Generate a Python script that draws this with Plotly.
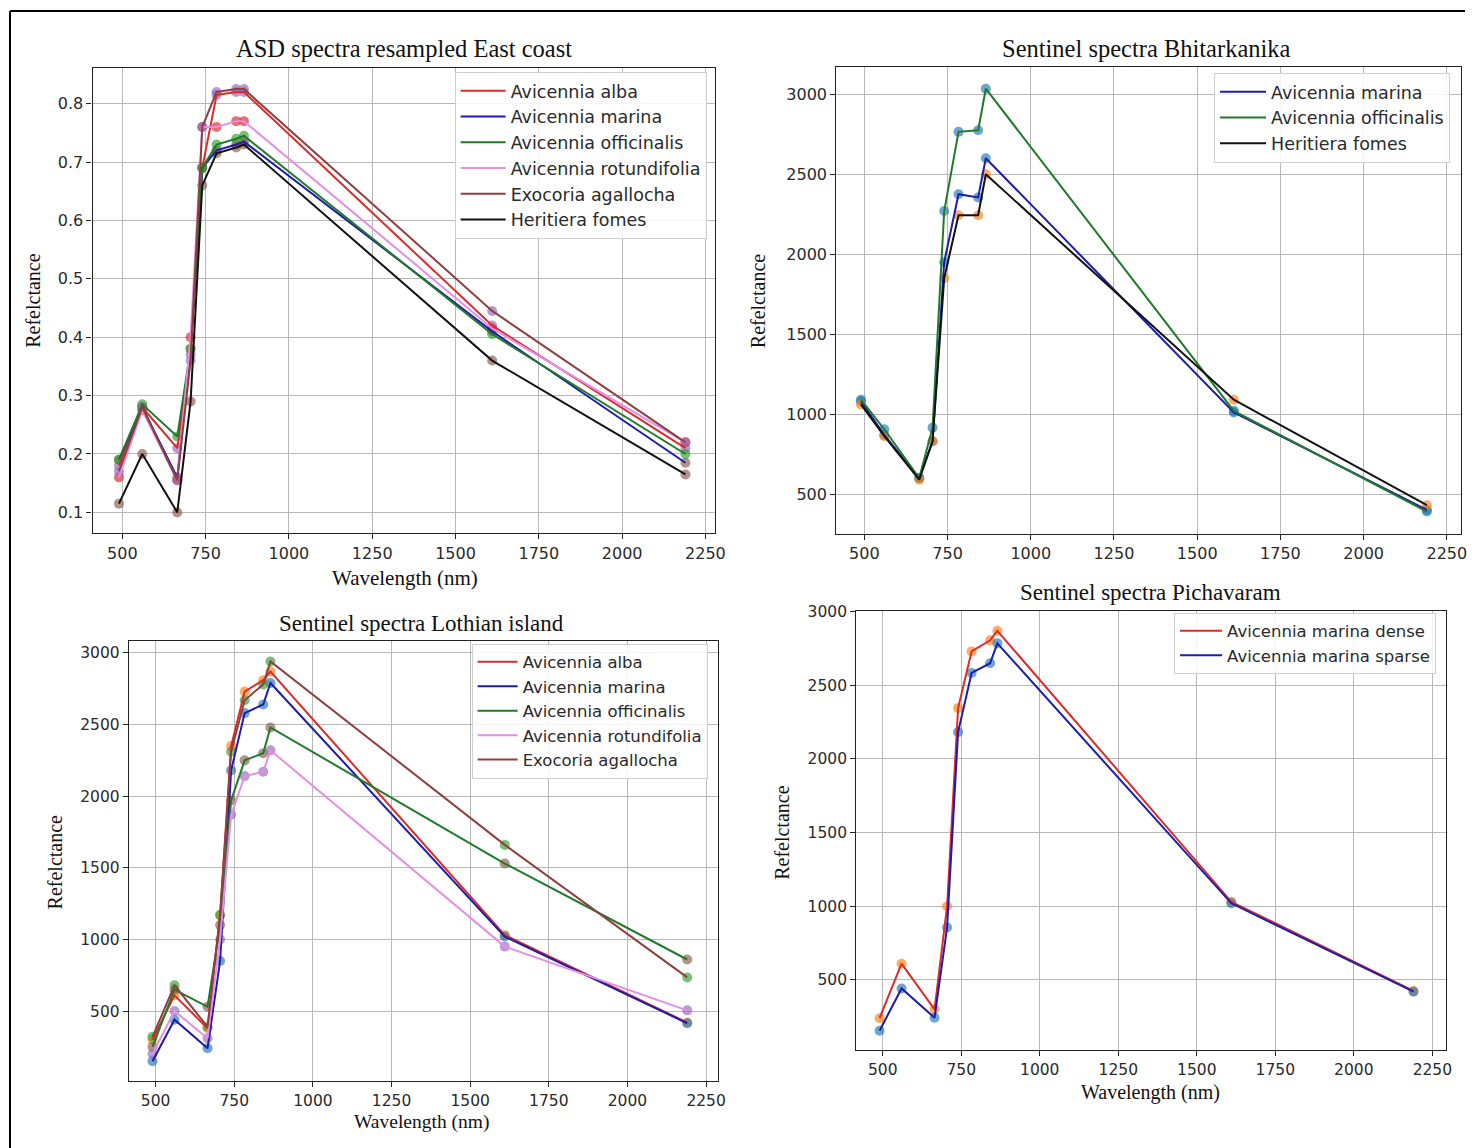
import plotly.graph_objects as go

W, H = 1475, 1148

# Sentinel-2 band centres (nm)
bands = [490, 560, 665, 705, 740, 783, 842, 865, 1610, 2190]
x_ticks = [500, 750, 1000, 1250, 1500, 1750, 2000, 2250]

# --- ASD spectra resampled, East coast (reflectance 0-1)
east_alba = [0.18, 0.28, 0.21, 0.37, 0.69, 0.815, 0.82, 0.82, 0.42, 0.21]
east_marina = [0.19, 0.28, 0.16, 0.38, 0.69, 0.72, 0.73, 0.735, 0.41, 0.185]
east_officinalis = [0.19, 0.285, 0.23, 0.38, 0.69, 0.73, 0.74, 0.745, 0.405, 0.20]
east_rotundifolia = [0.16, 0.275, 0.155, 0.40, 0.76, 0.76, 0.77, 0.77, 0.415, 0.22]
east_agallocha = [0.17, 0.28, 0.155, 0.36, 0.76, 0.82, 0.825, 0.825, 0.445, 0.22]
east_fomes = [0.115, 0.20, 0.10, 0.29, 0.66, 0.715, 0.725, 0.73, 0.36, 0.165]
east_ticks = [0.1, 0.2, 0.3, 0.4, 0.5, 0.6, 0.7, 0.8]

# --- Sentinel spectra, Bhitarkanika
bhit_marina = [1080, 870, 600, 830, 1950, 2375, 2355, 2600, 1010, 400]
bhit_officinalis = [1090, 905, 600, 915, 2270, 2765, 2775, 3035, 1020, 390]
bhit_fomes = [1060, 862, 590, 830, 1850, 2244, 2244, 2500, 1090, 430]
sent_ticks = [500, 1000, 1500, 2000, 2500, 3000]

# --- Sentinel spectra, Lothian island
loth_alba = [300, 610, 380, 1170, 2350, 2730, 2810, 2870, 1030, 420]
loth_marina = [150, 440, 240, 850, 2180, 2580, 2640, 2790, 1020, 415]
loth_officinalis = [250, 650, 530, 1100, 1970, 2250, 2300, 2480, 1530, 860]
loth_rotundifolia = [200, 500, 310, 1000, 1870, 2140, 2170, 2320, 950, 505]
loth_agallocha = [320, 680, 390, 1170, 2310, 2670, 2780, 2940, 1660, 735]

# --- Sentinel spectra, Pichavaram
pich_dense = [240, 610, 300, 1000, 2345, 2730, 2805, 2870, 1030, 425]
pich_sparse = [155, 442, 243, 856, 2182, 2584, 2650, 2785, 1020, 420]

C_RED, C_BLUE, C_GREEN = "#dd2a2a", "#1c1cb0", "#1f7a2a"
C_VIOLET, C_BROWN, C_BLACK = "#e48ee4", "#8e3f3f", "#111111"
M_BLUE, M_ORANGE, M_GREEN = "#1f77b4", "#ff7f0e", "#2ca02c"
M_RED, M_PURPLE, M_BROWN = "#d62728", "#9467bd", "#8c564b"

panels = [
    dict(
        frame=(92.7, 716, 67.3, 532.7), xr=[411, 2280], yr=[0.0641, 0.8606],
        yticks=east_ticks, ytext=[f"{v:.1f}" for v in east_ticks],
        title="ASD spectra resampled East coast", title_xy=(404, 48), title_size=24.5,
        xtitle_xy=(405, 577), xtitle_size=21, ytitle_xy=(33, 300),
        legend_xy=(455, 71), itemwidth=45,
        font=17.5, tickfont=16,
        series=[
            ("Avicennia alba", east_alba, C_RED, M_PURPLE),
            ("Avicennia marina", east_marina, C_BLUE, M_BROWN),
            ("Avicennia officinalis", east_officinalis, C_GREEN, M_GREEN),
            ("Avicennia rotundifolia", east_rotundifolia, C_VIOLET, M_RED),
            ("Exocoria agallocha", east_agallocha, C_BROWN, M_PURPLE),
            ("Heritiera fomes", east_fomes, C_BLACK, M_BROWN),
        ],
    ),
    dict(
        frame=(837, 1462, 66, 533), xr=[416, 2292], yr=[252, 3171],
        yticks=sent_ticks, ytext=[str(v) for v in sent_ticks],
        title="Sentinel spectra Bhitarkanika", title_xy=(1147, 48), title_size=24.5,
        xtitle_xy=None, xtitle_size=21, ytitle_xy=(758, 300),
        legend_xy=(1215, 72), itemwidth=46,
        font=17.5, tickfont=16,
        series=[
            ("Avicennia marina", bhit_marina, C_BLUE, M_BLUE),
            ("Avicennia officinalis", bhit_officinalis, C_GREEN, M_BLUE),
            ("Heritiera fomes", bhit_fomes, C_BLACK, M_ORANGE),
        ],
    ),
    dict(
        frame=(129, 718.3, 640.6, 1081), xr=[415, 2287], yr=[10, 3082],
        yticks=sent_ticks, ytext=[str(v) for v in sent_ticks],
        title="Sentinel spectra Lothian island", title_xy=(422, 623), title_size=23,
        xtitle_xy=(422, 1122), xtitle_size=19.5, ytitle_xy=(55, 862),
        legend_xy=(472, 643), itemwidth=40,
        font=16.5, tickfont=15.5,
        series=[
            ("Avicennia alba", loth_alba, C_RED, M_ORANGE),
            ("Avicennia marina", loth_marina, C_BLUE, M_BLUE),
            ("Avicennia officinalis", loth_officinalis, C_GREEN, M_BROWN),
            ("Avicennia rotundifolia", loth_rotundifolia, C_VIOLET, M_PURPLE),
            ("Exocoria agallocha", loth_agallocha, C_BROWN, M_GREEN),
        ],
    ),
    dict(
        frame=(857, 1447, 610.3, 1050), xr=[416, 2293], yr=[22, 3005],
        yticks=sent_ticks, ytext=[str(v) for v in sent_ticks],
        title="Sentinel spectra Pichavaram", title_xy=(1151, 592), title_size=23,
        xtitle_xy=(1151, 1092), xtitle_size=20, ytitle_xy=(783, 832),
        legend_xy=(1175, 612), itemwidth=42,
        font=16.5, tickfont=15.5,
        series=[
            ("Avicennia marina dense", pich_dense, C_RED, M_ORANGE),
            ("Avicennia marina sparse", pich_sparse, C_BLUE, M_BLUE),
        ],
    ),
]

# page-pixel layout positions -> paper fractions
SX, SY, OY = 0.994, 0.9937, 7.0


def px(x):
    return (x / SX) / W


def py(y):
    return 1 - ((y - OY) / SY) / H


SERIF = "Liberation Serif, Times New Roman, serif"
SANS = "DejaVu Sans, sans-serif"

fig = go.Figure()
layout = dict(
    width=W, height=H, margin=dict(l=0, r=0, t=0, b=0),
    paper_bgcolor="white", plot_bgcolor="white", showlegend=True,
)
annotations, shapes = [], []

for i, p in enumerate(panels, start=1):
    sfx = "" if i == 1 else str(i)
    xa, ya = "x" + sfx, "y" + sfx
    leg = "legend" + sfx
    x0, x1, y0, y1 = p["frame"]

    # markers sit underneath the lines
    for name, vals, lc, mc in p["series"]:
        fig.add_trace(go.Scatter(
            x=bands, y=vals, mode="markers", xaxis=xa, yaxis=ya,
            marker=dict(size=10, color=mc, opacity=0.65, line=dict(width=0)),
            showlegend=False, hoverinfo="skip", legend=leg,
        ))
    for name, vals, lc, mc in p["series"]:
        fig.add_trace(go.Scatter(
            x=bands, y=vals, mode="lines", name=name, xaxis=xa, yaxis=ya,
            line=dict(color=lc, width=2), legend=leg,
        ))

    axis_common = dict(
        showline=True, mirror=True, linecolor="#222", linewidth=1.3,
        ticks="outside", ticklen=5, tickcolor="#222", tickwidth=1,
        showgrid=True, gridcolor="#b8b8b8", gridwidth=1, zeroline=False,
        tickfont=dict(family=SANS, size=p["tickfont"], color="#2a2a2a"),
    )
    layout["xaxis" + sfx] = dict(
        axis_common, domain=[px(x0), px(x1)], anchor=ya, range=p["xr"],
        tickvals=x_ticks, ticktext=[str(v) for v in x_ticks],
    )
    layout["yaxis" + sfx] = dict(
        axis_common, domain=[py(y1), py(y0)], anchor=xa, range=p["yr"],
        tickvals=p["yticks"], ticktext=p["ytext"],
    )
    layout[leg] = dict(
        x=px(p["legend_xy"][0]), y=py(p["legend_xy"][1]),
        xanchor="left", yanchor="top",
        bgcolor="rgba(255,255,255,0.85)", bordercolor="#d0d0d0", borderwidth=1,
        font=dict(family=SANS, size=p["font"], color="#2a2a2a"),
        tracegroupgap=0, itemwidth=p["itemwidth"],
    )

    tx, ty = p["title_xy"]
    annotations.append(dict(
        text=p["title"], x=px(tx), y=py(ty), xref="paper", yref="paper",
        xanchor="center", yanchor="middle", showarrow=False,
        font=dict(family=SERIF, size=p["title_size"], color="#111"),
    ))
    if p["xtitle_xy"]:
        ax_, ay_ = p["xtitle_xy"]
        annotations.append(dict(
            text="Wavelength (nm)", x=px(ax_), y=py(ay_), xref="paper", yref="paper",
            xanchor="center", yanchor="middle", showarrow=False,
            font=dict(family=SERIF, size=p["xtitle_size"], color="#111"),
        ))
    yx, yy = p["ytitle_xy"]
    annotations.append(dict(
        text="Refelctance", x=px(yx), y=py(yy), xref="paper", yref="paper",
        xanchor="center", yanchor="middle", showarrow=False, textangle=-90,
        font=dict(family=SERIF, size=20, color="#111"),
    ))

# outer frame edges (left and top)
shapes.append(dict(type="line", xref="paper", yref="paper",
                   x0=px(10), x1=px(10), y0=py(10), y1=0, line=dict(color="black", width=2)))
shapes.append(dict(type="line", xref="paper", yref="paper",
                   x0=px(10), x1=1, y0=py(10), y1=py(10), line=dict(color="black", width=2)))

layout["annotations"] = annotations
layout["shapes"] = shapes
fig.update_layout(**layout)

fig.write_html("out.html")
